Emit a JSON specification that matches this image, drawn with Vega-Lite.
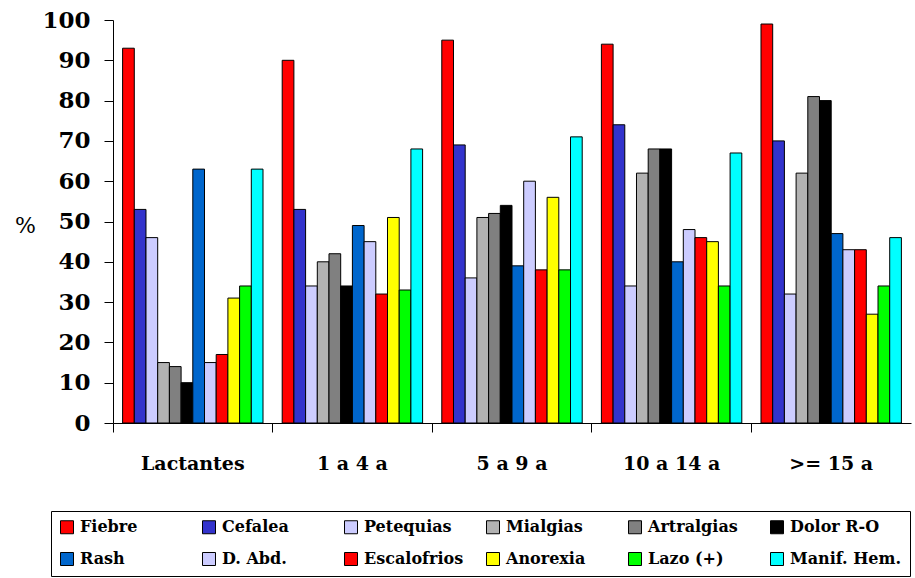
{
  "$schema": "https://vega.github.io/schema/vega-lite/v6.json",
  "autosize": "none",
  "width": 798,
  "height": 403,
  "padding": {"left": 113, "top": 20, "right": 4, "bottom": 155},
  "background": "white",
  "config": {
    "font": "DejaVu Serif",
    "view": {"stroke": null}
  },
  "data": {
    "values": [
      {"grupo": "Lactantes", "sintoma": "Fiebre", "pct": 93},
      {"grupo": "Lactantes", "sintoma": "Cefalea", "pct": 53},
      {"grupo": "Lactantes", "sintoma": "Petequias", "pct": 46},
      {"grupo": "Lactantes", "sintoma": "Mialgias", "pct": 15},
      {"grupo": "Lactantes", "sintoma": "Artralgias", "pct": 14},
      {"grupo": "Lactantes", "sintoma": "Dolor R-O", "pct": 10},
      {"grupo": "Lactantes", "sintoma": "Rash", "pct": 63},
      {"grupo": "Lactantes", "sintoma": "D. Abd.", "pct": 15},
      {"grupo": "Lactantes", "sintoma": "Escalofrios", "pct": 17},
      {"grupo": "Lactantes", "sintoma": "Anorexia", "pct": 31},
      {"grupo": "Lactantes", "sintoma": "Lazo (+)", "pct": 34},
      {"grupo": "Lactantes", "sintoma": "Manif. Hem.", "pct": 63},

      {"grupo": "1 a 4 a", "sintoma": "Fiebre", "pct": 90},
      {"grupo": "1 a 4 a", "sintoma": "Cefalea", "pct": 53},
      {"grupo": "1 a 4 a", "sintoma": "Petequias", "pct": 34},
      {"grupo": "1 a 4 a", "sintoma": "Mialgias", "pct": 40},
      {"grupo": "1 a 4 a", "sintoma": "Artralgias", "pct": 42},
      {"grupo": "1 a 4 a", "sintoma": "Dolor R-O", "pct": 34},
      {"grupo": "1 a 4 a", "sintoma": "Rash", "pct": 49},
      {"grupo": "1 a 4 a", "sintoma": "D. Abd.", "pct": 45},
      {"grupo": "1 a 4 a", "sintoma": "Escalofrios", "pct": 32},
      {"grupo": "1 a 4 a", "sintoma": "Anorexia", "pct": 51},
      {"grupo": "1 a 4 a", "sintoma": "Lazo (+)", "pct": 33},
      {"grupo": "1 a 4 a", "sintoma": "Manif. Hem.", "pct": 68},

      {"grupo": "5 a 9 a", "sintoma": "Fiebre", "pct": 95},
      {"grupo": "5 a 9 a", "sintoma": "Cefalea", "pct": 69},
      {"grupo": "5 a 9 a", "sintoma": "Petequias", "pct": 36},
      {"grupo": "5 a 9 a", "sintoma": "Mialgias", "pct": 51},
      {"grupo": "5 a 9 a", "sintoma": "Artralgias", "pct": 52},
      {"grupo": "5 a 9 a", "sintoma": "Dolor R-O", "pct": 54},
      {"grupo": "5 a 9 a", "sintoma": "Rash", "pct": 39},
      {"grupo": "5 a 9 a", "sintoma": "D. Abd.", "pct": 60},
      {"grupo": "5 a 9 a", "sintoma": "Escalofrios", "pct": 38},
      {"grupo": "5 a 9 a", "sintoma": "Anorexia", "pct": 56},
      {"grupo": "5 a 9 a", "sintoma": "Lazo (+)", "pct": 38},
      {"grupo": "5 a 9 a", "sintoma": "Manif. Hem.", "pct": 71},

      {"grupo": "10 a 14 a", "sintoma": "Fiebre", "pct": 94},
      {"grupo": "10 a 14 a", "sintoma": "Cefalea", "pct": 74},
      {"grupo": "10 a 14 a", "sintoma": "Petequias", "pct": 34},
      {"grupo": "10 a 14 a", "sintoma": "Mialgias", "pct": 62},
      {"grupo": "10 a 14 a", "sintoma": "Artralgias", "pct": 68},
      {"grupo": "10 a 14 a", "sintoma": "Dolor R-O", "pct": 68},
      {"grupo": "10 a 14 a", "sintoma": "Rash", "pct": 40},
      {"grupo": "10 a 14 a", "sintoma": "D. Abd.", "pct": 48},
      {"grupo": "10 a 14 a", "sintoma": "Escalofrios", "pct": 46},
      {"grupo": "10 a 14 a", "sintoma": "Anorexia", "pct": 45},
      {"grupo": "10 a 14 a", "sintoma": "Lazo (+)", "pct": 34},
      {"grupo": "10 a 14 a", "sintoma": "Manif. Hem.", "pct": 67},

      {"grupo": ">= 15 a", "sintoma": "Fiebre", "pct": 99},
      {"grupo": ">= 15 a", "sintoma": "Cefalea", "pct": 70},
      {"grupo": ">= 15 a", "sintoma": "Petequias", "pct": 32},
      {"grupo": ">= 15 a", "sintoma": "Mialgias", "pct": 62},
      {"grupo": ">= 15 a", "sintoma": "Artralgias", "pct": 81},
      {"grupo": ">= 15 a", "sintoma": "Dolor R-O", "pct": 80},
      {"grupo": ">= 15 a", "sintoma": "Rash", "pct": 47},
      {"grupo": ">= 15 a", "sintoma": "D. Abd.", "pct": 43},
      {"grupo": ">= 15 a", "sintoma": "Escalofrios", "pct": 43},
      {"grupo": ">= 15 a", "sintoma": "Anorexia", "pct": 27},
      {"grupo": ">= 15 a", "sintoma": "Lazo (+)", "pct": 34},
      {"grupo": ">= 15 a", "sintoma": "Manif. Hem.", "pct": 46}
    ]
  },
  "mark": {"type": "bar", "stroke": "black", "strokeWidth": 1},
  "encoding": {
    "x": {
      "field": "grupo",
      "type": "nominal",
      "sort": ["Lactantes", "1 a 4 a", "5 a 9 a", "10 a 14 a", ">= 15 a"],
      "scale": {"paddingInner": 0, "paddingOuter": 0},
      "axis": {
        "title": null,
        "bandPosition": 0,
        "labelAngle": 0,
        "labelFont": "DejaVu Serif",
        "labelFontSize": 19,
        "labelFontWeight": "bold",
        "labelColor": "black",
        "labelPadding": 22,
        "labelBaseline": "top",
        "tickSize": 9,
        "tickColor": "black",
        "domainColor": "black",
        "grid": false
      }
    },
    "xOffset": {
      "field": "sintoma",
      "type": "nominal",
      "sort": ["Fiebre", "Cefalea", "Petequias", "Mialgias", "Artralgias", "Dolor R-O", "Rash", "D. Abd.", "Escalofrios", "Anorexia", "Lazo (+)", "Manif. Hem."],
      "scale": {"paddingInner": 0, "paddingOuter": 0.82}
    },
    "y": {
      "field": "pct",
      "type": "quantitative",
      "scale": {"domain": [0, 100], "nice": false},
      "axis": {
        "title": "%",
        "titleAngle": 0,
        "titleX": -88,
        "titleY": 205,
        "titleAlign": "center",
        "titleBaseline": "middle",
        "titleFont": "DejaVu Serif",
        "titleFontSize": 22,
        "titleFontWeight": "normal",
        "titleColor": "black",
        "values": [0, 10, 20, 30, 40, 50, 60, 70, 80, 90, 100],
        "labelFont": "DejaVu Serif",
        "labelFontSize": 23,
        "labelFontWeight": "bold",
        "labelColor": "black",
        "labelPadding": 14,
        "tickSize": 9,
        "tickColor": "black",
        "domainColor": "black",
        "grid": false
      }
    },
    "color": {
      "field": "sintoma",
      "type": "nominal",
      "sort": ["Fiebre", "Cefalea", "Petequias", "Mialgias", "Artralgias", "Dolor R-O", "Rash", "D. Abd.", "Escalofrios", "Anorexia", "Lazo (+)", "Manif. Hem."],
      "scale": {
        "domain": ["Fiebre", "Cefalea", "Petequias", "Mialgias", "Artralgias", "Dolor R-O", "Rash", "D. Abd.", "Escalofrios", "Anorexia", "Lazo (+)", "Manif. Hem."],
        "range": ["#FF0000", "#3333CC", "#CCCCFF", "#B2B2B2", "#808080", "#000000", "#0066CC", "#CCCCFF", "#FF0000", "#FFFF00", "#00FF00", "#00FFFF"]
      },
      "legend": {
        "title": null,
        "orient": "none",
        "legendX": -62,
        "legendY": 491,
        "direction": "horizontal",
        "columns": 6,
        "gridAlign": "all",
        "columnPadding": 8,
        "rowPadding": 14,
        "symbolType": "square",
        "symbolSize": 169,
        "symbolStrokeColor": "black",
        "symbolStrokeWidth": 1,
        "labelFont": "DejaVu Serif",
        "labelFontSize": 16,
        "labelFontWeight": "bold",
        "labelColor": "black",
        "labelOffset": 5,
        "labelLimit": 200,
        "strokeColor": "black",
        "fillColor": "white",
        "padding": 8
      }
    }
  }
}
